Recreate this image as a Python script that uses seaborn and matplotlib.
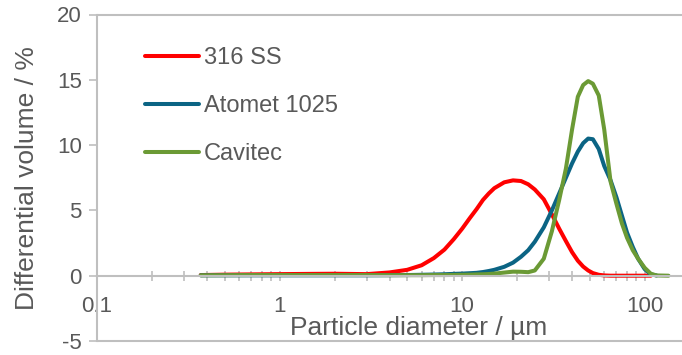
import numpy as np
import pandas as pd
import matplotlib
matplotlib.use("Agg")
import matplotlib.pyplot as plt
from matplotlib.ticker import FixedLocator, NullFormatter
import seaborn as sns

# ---------------- data ----------------
diam = [0.37, 0.5, 0.7, 1, 1.5, 2, 3, 4, 5, 6, 7, 8, 9, 10, 11, 12, 13, 14, 15,
        17, 19, 21, 23, 25, 28, 31, 34, 37, 40, 43, 46, 49, 52, 56, 60, 65, 70,
        75, 80, 86, 92, 100, 108, 116, 125, 135]

ss316 = [0.05, 0.08, 0.10, 0.12, 0.14, 0.15, 0.12, 0.25, 0.45, 0.80, 1.35, 2.0,
         2.8, 3.6, 4.4, 5.1, 5.8, 6.3, 6.7, 7.15, 7.3, 7.25, 7.0, 6.6, 5.85,
         4.7, 3.6, 2.65, 1.8, 1.15, 0.7, 0.4, 0.2, 0.07, 0.02, 0.0, 0.0, 0.0,
         0.0, 0.0, 0.0, 0.0, 0.0, None, None, None]

atomet = [0.03, 0.03, 0.03, 0.03, 0.03, 0.03, 0.03, 0.04, 0.05, 0.07, 0.09,
          0.11, 0.14, 0.16, 0.19, 0.22, 0.28, 0.36, 0.45, 0.68, 1.0, 1.45,
          1.95, 2.6, 3.7, 5.0, 6.3, 7.5, 8.6, 9.5, 10.15, 10.5, 10.45, 9.7,
          8.4, 7.3, 6.0, 4.6, 3.3, 2.2, 1.3, 0.5, 0.1, 0.02, None, None]

cavitec = [0.03, 0.04, 0.05, 0.05, 0.05, 0.05, 0.05, 0.04, 0.04, 0.04, 0.05,
           0.05, 0.06, 0.07, 0.08, 0.10, 0.11, 0.13, 0.16, 0.24, 0.31, 0.30,
           0.27, 0.40, 1.3, 3.4, 5.8, 8.2, 11.2, 13.7, 14.6, 14.9, 14.7,
           13.8, 11.2, 7.2, 5.5, 4.0, 2.9, 1.95, 1.3, 0.6, 0.15, 0.02, 0.01, 0.0]

series_names = ["316 SS", "Atomet 1025", "Cavitec"]
series_vals = [ss316, atomet, cavitec]
colors = {"316 SS": "#FF0000", "Atomet 1025": "#0B6484", "Cavitec": "#6B9A35"}

xticks = [0.1, 1, 10, 100]
xticklabels = ["0.1", "1", "10", "100"]
yticks = [-5, 0, 5, 10, 15, 20]

rows = []
for name, vals in zip(series_names, series_vals):
    for d, v in zip(diam, vals):
        if v is not None:
            rows.append({"diameter": d, "volume": v, "sample": name})
df = pd.DataFrame(rows)

# ---------------- styling ----------------
sns.set_style("white")
plt.rcParams["font.family"] = ["Liberation Sans", "DejaVu Sans"]
plt.rcParams["axes.unicode_minus"] = False
TXT = "#595959"
AX = "#BFBFBF"

fig = plt.figure(figsize=(6.82, 3.55), dpi=100)
ax = fig.add_axes([97 / 682, 1 - 341 / 355, 585 / 682, (341 - 14.5) / 355])

sns.lineplot(data=df, x="diameter", y="volume", hue="sample",
             hue_order=series_names, palette=colors, estimator=None,
             sort=False, linewidth=2.9, ax=ax)
for ln in ax.get_lines():
    ln.set_solid_joinstyle("round")
    ln.set_solid_capstyle("round")

ax.set_xscale("log")
ax.set_xlim(0.1, 160)
ax.set_ylim(-5, 20)

# x axis crosses at y = 0
for s in ["top", "right"]:
    ax.spines[s].set_visible(False)
ax.spines["bottom"].set_position(("data", 0))
ax.spines["bottom"].set_color(AX)
ax.spines["left"].set_color(AX)
ax.spines["bottom"].set_linewidth(1.5)
ax.spines["left"].set_linewidth(1.5)
ax.axhline(20, color=AX, lw=1.5, zorder=0, clip_on=False)
ax.axhline(-5, color=AX, lw=1.5, zorder=0, clip_on=False)

ax.xaxis.set_major_locator(FixedLocator(xticks))
ax.set_xticklabels(xticklabels)
minors = [m * d for d in [0.1, 1, 10] for m in range(2, 10)]
ax.xaxis.set_minor_locator(FixedLocator(minors))
ax.xaxis.set_minor_formatter(NullFormatter())
ax.tick_params(axis="x", which="both", direction="inout", length=7,
               width=1.2, color=AX, labelsize=16, labelcolor=TXT, pad=11,
               bottom=True)
ax.set_yticks(yticks)
ax.tick_params(axis="y", direction="out", length=6, width=1.2, color=AX,
               labelsize=16, labelcolor=TXT, pad=5, left=True)

ax.set_xlabel("Particle diameter / µm", fontsize=19, color=TXT)
ax.set_ylabel("Differential volume / %", fontsize=19, color=TXT)
ax.xaxis.set_label_coords((419 - 97) / 585, (341 - 328) / 326.5)
ax.xaxis.label.set_va("center")
ax.yaxis.set_label_coords((27 - 97) / 585, 0.5)
ax.yaxis.label.set_va("center")

leg = ax.legend(loc="upper left", bbox_to_anchor=((145 - 97) / 585, (341 - 47) / 326.5),
                frameon=False, fontsize=17, handlelength=2.3, handletextpad=0.2,
                labelspacing=1.1, borderpad=0, borderaxespad=0)
for t in leg.get_texts():
    t.set_color(TXT)
for h in leg.get_lines():
    h.set_linewidth(2.9)

fig.savefig("out.png", dpi=100)
